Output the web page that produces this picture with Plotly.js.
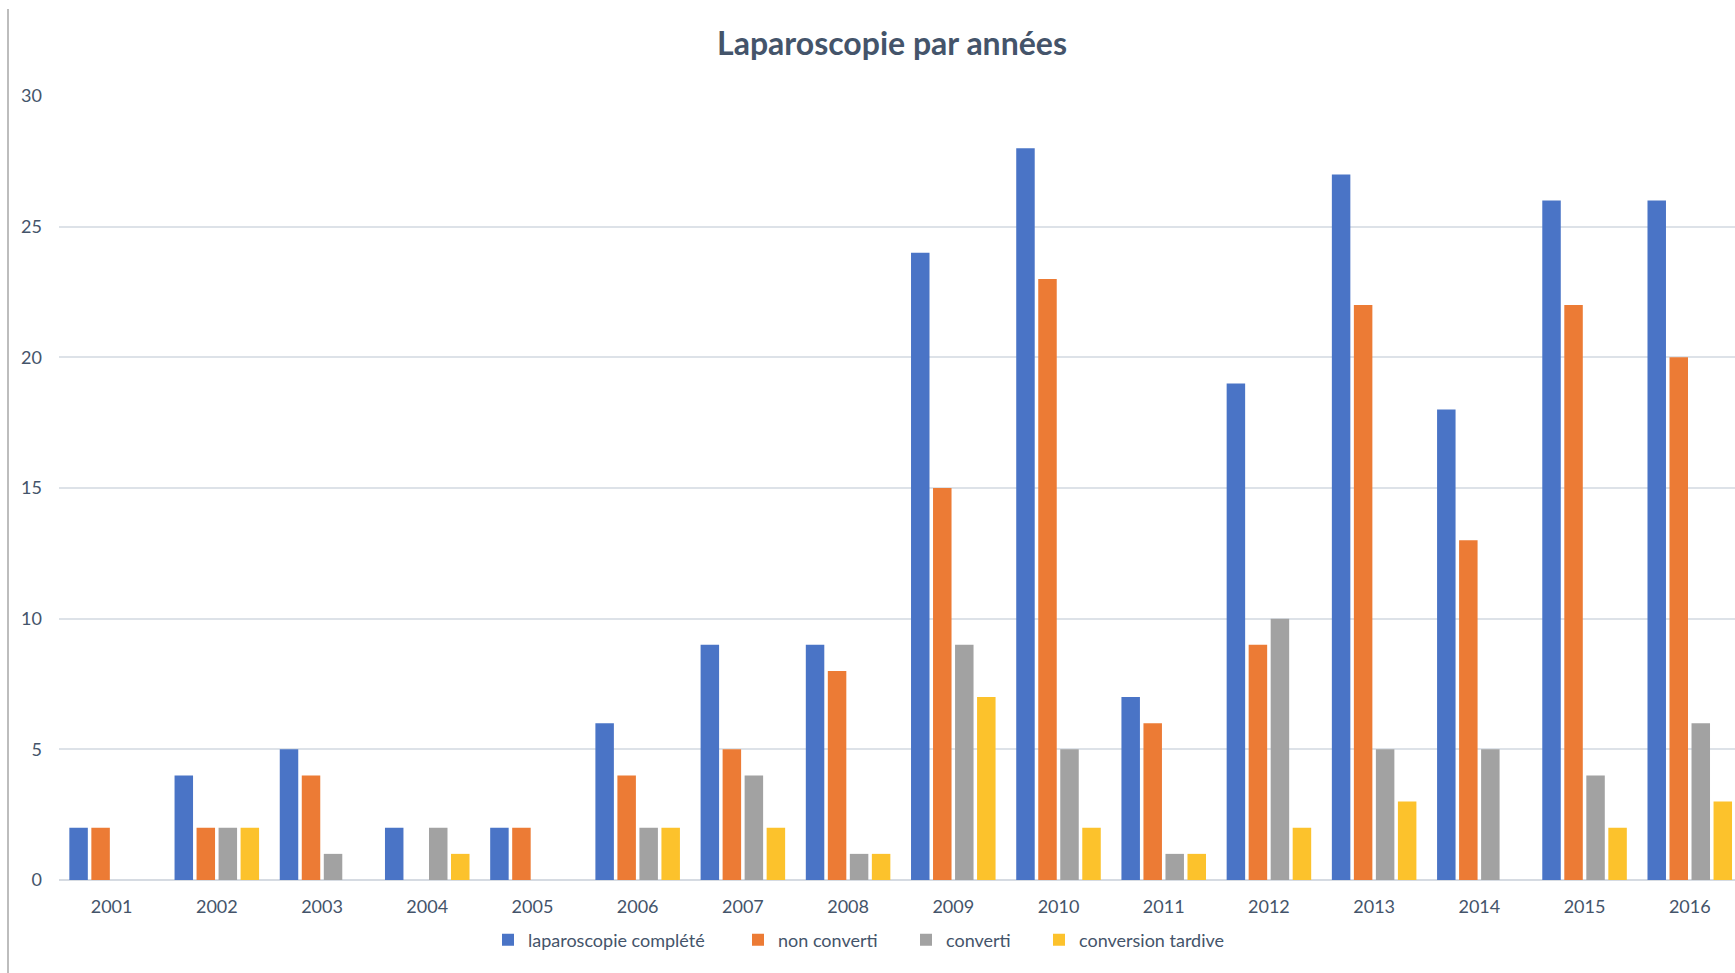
<!DOCTYPE html>
<html>
<head>
<meta charset="utf-8">
<script src="https://cdn.plot.ly/plotly-3.0.1.min.js"></script>
<style>
  html, body { margin: 0; padding: 0; background: #ffffff; }
  #chart { width: 1735px; height: 973px; }
</style>
</head>
<body>
<div id="chart"></div>
<script>
const years = ['2001','2002','2003','2004','2005','2006','2007','2008','2009','2010','2011','2012','2013','2014','2015','2016'];
const laparoscopieComplete = [2, 4, 5, 2, 2, 6, 9, 9, 24, 28, 7, 19, 27, 18, 26, 26];
const nonConverti = [2, 2, 4, 0, 2, 4, 5, 8, 15, 23, 6, 9, 22, 13, 22, 20];
const converti = [0, 2, 1, 2, 0, 2, 4, 1, 9, 5, 1, 10, 5, 5, 4, 6];
const conversionTardive = [0, 2, 0, 1, 0, 2, 2, 1, 7, 2, 1, 2, 3, 0, 2, 3];
const seriesNames = ['laparoscopie complété', 'non converti', 'converti', 'conversion tardive'];
const yTicks = [0, 5, 10, 15, 20, 25, 30];

const colors = ['#4a74c6', '#ec7b35', '#a2a2a2', '#fcc22c'];
const allSeries = [laparoscopieComplete, nonConverti, converti, conversionTardive];
const legendIds = ['legend', 'legend2', 'legend3', 'legend4'];

const traces = allSeries.map((vals, i) => ({
  type: 'bar',
  name: seriesNames[i],
  x: years,
  y: vals,
  legend: legendIds[i],
  marker: { color: colors[i], line: { width: 0 } },
  hoverinfo: 'x+y+name'
}));

const fontFam = 'Lato, "Open Sans", "Liberation Sans", sans-serif';
const textColor = '#44546a';

// legend text start positions (px, full size) for each entry
const legendTextStarts = [528, 778, 946, 1079];
const plotLeft = 59, plotW = 1676, plotBottom = 880, plotH = 784;

const layout = {
  width: 1735,
  height: 973,
  margin: { l: plotLeft, r: 0, t: 96, b: 93, pad: 0 },
  paper_bgcolor: '#ffffff',
  plot_bgcolor: '#ffffff',
  font: { family: fontFam, color: textColor, size: 18 },
  title: {
    text: '<b>Laparoscopie par années</b>',
    font: { family: fontFam, size: 32, color: textColor },
    x: 892 / 1735,
    xref: 'container',
    xanchor: 'center',
    y: 1 - 44 / 973,
    yref: 'container',
    yanchor: 'middle'
  },
  barmode: 'group',
  bargap: 0.163,
  bargroupgap: 0.16,
  xaxis: {
    type: 'category',
    range: [-0.5, 15.43],
    showgrid: false,
    zeroline: false,
    showline: false,
    ticks: '',
    ticklabelstandoff: 14,
    tickfont: { family: fontFam, size: 18, color: textColor },
    fixedrange: true
  },
  yaxis: {
    range: [0, 30],
    tickvals: yTicks,
    ticktext: yTicks.map(String),
    showgrid: true,
    gridcolor: '#dde2e8',
    gridwidth: 1.5,
    zeroline: true,
    zerolinecolor: '#d6dbe2',
    zerolinewidth: 2,
    showline: false,
    ticks: '',
    ticklabelstandoff: 16,
    tickfont: { family: fontFam, size: 18, color: textColor },
    fixedrange: true
  },
  showlegend: true,
  shapes: [
    {
      type: 'line',
      xref: 'paper', yref: 'paper',
      x0: (8 - plotLeft) / plotW, x1: (8 - plotLeft) / plotW,
      y0: (plotBottom - 9) / plotH, y1: (plotBottom - 973) / plotH,
      line: { color: '#bdbdbd', width: 2 }
    }
  ]
};

legendIds.forEach((id, i) => {
  layout[id] = {
    orientation: 'h',
    x: (legendTextStarts[i] - 40 - plotLeft) / plotW,
    xanchor: 'left',
    y: (plotBottom - 940) / plotH,
    yanchor: 'middle',
    font: { family: fontFam, size: 18, color: textColor },
    itemwidth: 30,
    bgcolor: 'rgba(0,0,0,0)',
    borderwidth: 0
  };
});

Plotly.newPlot('chart', traces, layout, { displayModeBar: false, responsive: false });
</script>
</body>
</html>
